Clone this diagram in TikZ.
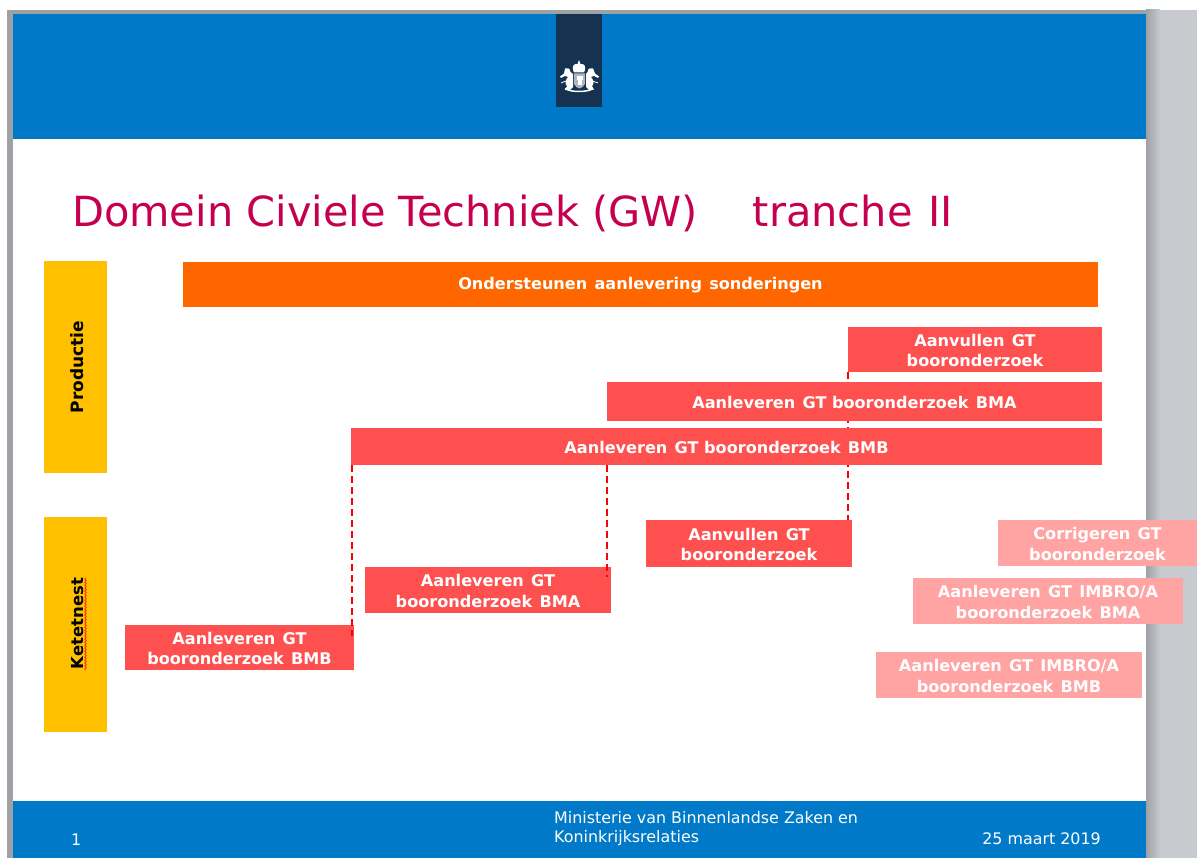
\documentclass[tikz,border=0pt]{standalone}
\usepackage{fontspec}
\setmainfont{DejaVu Sans}
\usetikzlibrary{decorations.pathmorphing,positioning}
\definecolor{govblue}{HTML}{007AC8}
\definecolor{navy}{HTML}{153250}
\definecolor{sidegrey}{HTML}{C7CACE}
\definecolor{edgegrey}{HTML}{9EA1A6}
\definecolor{title}{HTML}{C4004F}
\definecolor{barorange}{HTML}{FF6600}
\definecolor{barred}{HTML}{FF5050}
\definecolor{barpink}{HTML}{FFA3A3}
\definecolor{baryellow}{HTML}{FFC000}
\newcommand{\bfs}{\fontsize{16.1}{20.2}\selectfont\bfseries}
\newcommand{\gp}{\hspace{0.45em}}
\tikzset{
  x=1pt,y=-1pt,
  bar/.style={inner sep=0pt,text=white,align=center,font=\bfs},
  redbar/.style={bar,fill=barred},
  pinkbar/.style={bar,fill=barpink},
  orangebar/.style={bar,fill=barorange},
  side/.style={inner sep=0pt,fill=baryellow},
  link/.style={draw=red,line width=2pt,dash pattern=on 7pt off 4pt},
  foot/.style={inner sep=0pt,text=white,font=\fontsize{15.9}{19.4}\selectfont},
}
\newcommand{\boxat}[7]{% name style x0 y0 x1 y1 text
  \path[#2] (#3,#4) rectangle (#5,#6);
  \node[inner sep=0pt,text=white,align=center,font=\bfs] (#1) at ({(#3+#5)/2},{(#4+#6)/2+1}) {#7};
  \coordinate (#1nw) at (#3,#4); \coordinate (#1ne) at (#5,#4);
  \coordinate (#1sw) at (#3,#6); \coordinate (#1se) at (#5,#6);
}
\begin{document}
\begin{tikzpicture}
\useasboundingbox (0,0) rectangle (1197,858);
\fill[white] (0,0) rectangle (1197,858);
% surroundings of the slide
\fill[sidegrey] (1146,10) rectangle (1197,858);
\shade[left color=edgegrey,right color=sidegrey] (1146,10) rectangle (1160,858);
\fill[edgegrey] (7,10) rectangle (1146,858);
\fill[white] (13,14) rectangle (1146,858);
% bands
\fill[govblue] (13,14) rectangle (1146,139);
\fill[govblue] (13,801) rectangle (1146,858);
\fill[navy] (556,14) rectangle (602,107);
% crest
\begin{scope}[white]
  % crown
  \fill (574,72.5) .. controls (571,66) and (574,63.5) .. (577.5,64) -- (579,60) -- (580.5,64) .. controls (584,63.5) and (587,66) .. (584,72.5) -- cycle;
  % shield
  \fill[white!65!navy] (574,73.5) -- (585,73.5) -- (585,84) .. controls (584,87) and (581,88) .. (579.5,88.5) .. controls (578,88) and (575,87) .. (574,84) -- cycle;
  \fill (576.5,76) rectangle (582.5,80);
  \fill (577.5,80) rectangle (581.5,85);
  % left lion
  \fill (565,68.5) .. controls (569,67.5) and (571,69.5) .. (570.5,72) -- (573,74) -- (573,87) -- (570,90) -- (565,90) -- (567,86) .. controls (564,84) and (566,79) .. (568,77) -- (565,76) -- (561,78) -- (560,76.5) -- (564,73.5) -- cycle;
  % right lion
  \fill (593,68.5) .. controls (589,67.5) and (587,69.5) .. (587.5,72) -- (586,74) -- (586,87) -- (589,90) -- (594,90) -- (592,86) .. controls (595,84) and (593,79) .. (591,77) -- (594,76) -- (598,78) -- (599,76.5) -- (595,73.5) -- cycle;
  % ribbon
  \draw[line width=1.5pt] (565,88.5) .. controls (570,92.5) and (588,92.5) .. (593,88.5);
  \draw[line width=.8pt] (561,83) -- (566,81) (598,83) -- (592,81);
\end{scope}
% title
\node[inner sep=0pt,anchor=base west,text=title,font=\fontsize{41.5}{48}\selectfont] (heading) at (72,227) {Domein Civiele Techniek (GW)\hspace{1.32em}tranche\hspace{3pt} II};
% connectors behind the upper bars
\coordinate (c1a) at (848,372); \coordinate (c1b) at (848,522);
\draw[link] (c1a) -- (c1b);
% bars
\boxat{ond}{orangebar}{183}{262}{1098}{307}{\raisebox{-1pt}{Ondersteunen\gp aanlevering\gp sonderingen}}
\boxat{aanv}{redbar}{848}{327}{1102}{372}{Aanvullen\gp GT\\booronderzoek}
\boxat{bma}{redbar}{607}{382}{1102}{421}{Aanleveren\gp GT booronderzoek\gp BMA}
\boxat{bmb}{redbar}{351}{428}{1102}{465}{Aanleveren\gp GT booronderzoek\gp BMB}
\boxat{aanvl}{redbar}{646}{520}{852}{567}{Aanvullen\gp GT\\booronderzoek}
\boxat{bmal}{redbar}{365}{567}{611}{613}{Aanleveren\gp GT\\booronderzoek\gp BMA}
\boxat{bmbl}{redbar}{125}{625}{354}{670}{Aanleveren\gp GT\\booronderzoek\gp BMB}
\boxat{corr}{pinkbar}{998}{520}{1197}{566}{Corrigeren\gp GT\\booronderzoek}
\boxat{ima}{pinkbar}{913}{578}{1183}{624}{Aanleveren\gp GT\gp IMBRO/A\\booronderzoek\gp BMA}
\boxat{imb}{pinkbar}{876}{652}{1142}{698}{Aanleveren\gp GT\gp IMBRO/A\\booronderzoek\gp BMB}
% connectors in front
\coordinate (c2a) at (352,465); \coordinate (c2b) at (352,636);
\coordinate (c3a) at (607,465); \coordinate (c3b) at (607,577);
\draw[link] (c2a) -- (c2b);
\draw[link] (c3a) -- (c3b);
% side labels
\node[side,minimum width=63pt,minimum height=212pt] (prod) at (75.5,367) {};
\node[side,minimum width=63pt,minimum height=215pt] (kete) at (75.5,624.5) {};
\node[rotate=90,inner sep=0pt,font=\fontsize{17}{20}\selectfont\bfseries,text=black] (prodl) at (77.5,367) {Productie};
\node[rotate=90,inner sep=0pt,font=\fontsize{16.5}{20}\selectfont\bfseries,text=black] (ketl) at (77.5,623.5) {Ketetnest};
\draw[red,line width=.6pt,decorate,decoration={snake,amplitude=.8pt,segment length=3pt}] (85.5,670) -- (85.5,578);
% footer
\node[foot,anchor=base west] (num) at (71,845) {1};
\node[foot,anchor=north west,align=left] (min) at (554,811) {Ministerie van Binnenlandse Zaken en\\Koninkrijksrelaties};
\node[foot,anchor=base east] (date) at (1101,844) {25 maart 2019};
\end{tikzpicture}
\end{document}
